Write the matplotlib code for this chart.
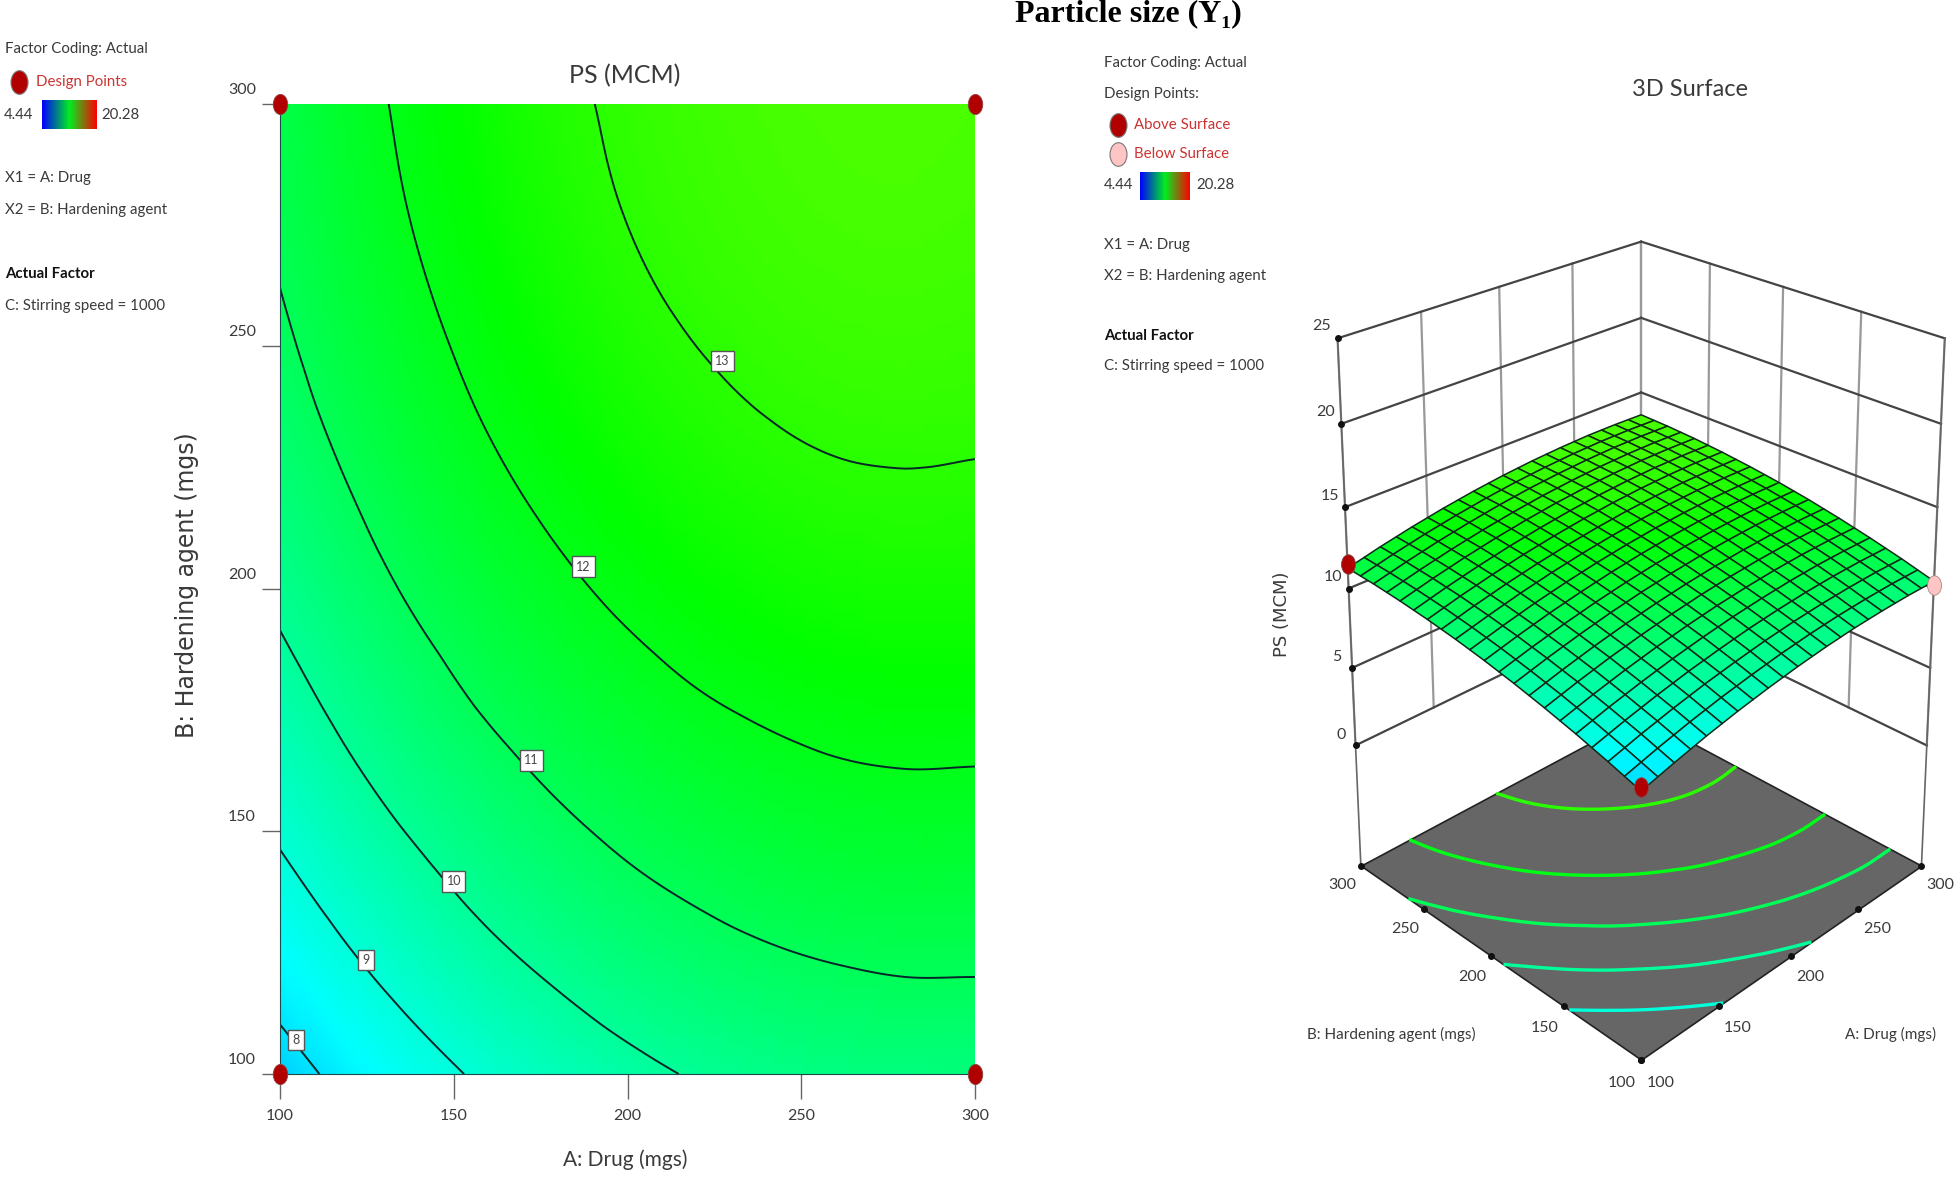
import numpy as np
import matplotlib
matplotlib.use("Agg")
import matplotlib.pyplot as plt
from matplotlib.colors import LinearSegmentedColormap, Normalize
from matplotlib.markers import MarkerStyle
from matplotlib.transforms import Affine2D
from matplotlib.tri import Triangulation, CubicTriInterpolator
from mpl_toolkits.mplot3d import proj3d

W, H = 1960, 1181

# values
drug = [100, 120, 140, 160, 180, 200, 220, 240, 260, 280, 300]
hardening = [100, 120, 140, 160, 180, 200, 220, 240, 260, 280, 300]
ps = np.array([
    [7.69, 8.23, 8.72, 9.14, 9.50, 9.81, 10.06, 10.25, 10.37, 10.44, 10.45],
    [8.29, 8.83, 9.31, 9.73, 10.08, 10.39, 10.63, 10.81, 10.93, 11.00, 11.00],
    [8.84, 9.37, 9.84, 10.26, 10.61, 10.91, 11.14, 11.32, 11.44, 11.49, 11.49],
    [9.33, 9.86, 10.33, 10.73, 11.08, 11.37, 11.60, 11.77, 11.89, 11.94, 11.93],
    [9.77, 10.29, 10.75, 11.16, 11.50, 11.78, 12.01, 12.17, 12.28, 12.33, 12.32],
    [10.16, 10.67, 11.13, 11.52, 11.86, 12.14, 12.36, 12.52, 12.62, 12.66, 12.65],
    [10.49, 10.99, 11.45, 11.84, 12.17, 12.44, 12.66, 12.81, 12.91, 12.94, 12.92],
    [10.76, 11.27, 11.71, 12.10, 12.42, 12.69, 12.90, 13.05, 13.14, 13.17, 13.14],
    [10.98, 11.48, 11.92, 12.30, 12.62, 12.89, 13.09, 13.23, 13.32, 13.34, 13.31],
    [11.15, 11.64, 12.08, 12.45, 12.77, 13.03, 13.22, 13.36, 13.44, 13.46, 13.42],
    [11.26, 11.75, 12.18, 12.55, 12.86, 13.11, 13.30, 13.43, 13.51, 13.52, 13.48],
])
contour_levels = [8, 9, 10, 11, 12, 13]
floor_levels = [9, 10, 11, 12, 13]
label_values = [8, 9, 10, 11, 12, 13]
label_drug = [104.7, 124.8, 150.0, 172.3, 187.4, 227.3]
label_hardening = [107.0, 123.5, 139.7, 164.7, 204.6, 247.0]
points_drug = [100, 100, 300, 300]
points_hardening = [100, 300, 100, 300]
above_drug = [100, 100]
above_hardening = [100, 300]
above_ps = [7.9, 11.5]
below_drug = [300]
below_hardening = [100]
below_ps = [10.2]
ticks_ab = [100, 150, 200, 250, 300]
ticks_ps = [0, 5, 10, 15, 20, 25]
ps_min, ps_max = 4.44, 20.28

NARROW = ["Lato", "Liberation Sans"]
TXT = "#3a3a3a"
RED = "#b00000"
PINK = "#ffc4c4"

surface_cmap = LinearSegmentedColormap.from_list(
    "de", ["#0000ff", "#00ffff", "#00ff00", "#ffff00", "#ff0000"])
bar_cmap = LinearSegmentedColormap.from_list("bar", ["#0000ff", "#00ee20", "#ff0000"])
norm = Normalize(ps_min, ps_max)
oval = MarkerStyle("o", transform=Affine2D().scale(0.72, 1))

# smooth rendering of the read grid
gx, gy = np.meshgrid(drug, hardening)
tri = Triangulation(gx.ravel().astype(float), gy.ravel().astype(float))
smooth = CubicTriInterpolator(tri, ps.ravel(), kind="geom")
x_smooth, y_smooth = np.meshgrid(np.linspace(100, 300, 101), np.linspace(100, 300, 101))
x_smooth = np.clip(x_smooth, 100.0001, 299.9999)
y_smooth = np.clip(y_smooth, 100.0001, 299.9999)
ps_smooth = smooth(x_smooth, y_smooth)

fig = plt.figure(figsize=(W / 100, H / 100), dpi=100)

# left: contour plot
ax = fig.add_axes([280 / W, 1 - 1074 / H, 695 / W, 970 / H])
ax.pcolormesh(x_smooth, y_smooth, ps_smooth, cmap=surface_cmap, norm=norm, shading="gouraud")
ax.contour(x_smooth, y_smooth, ps_smooth, levels=contour_levels, colors="#06262a", linewidths=1.4)
ax.set_xlim(100, 300)
ax.set_ylim(100, 300)
ax.spines["top"].set_visible(False)
ax.spines["right"].set_visible(False)
ax.spines["left"].set_color("#1c4a4a")
ax.spines["bottom"].set_color("#1c4a4a")
ax.set_xticks(ticks_ab)
ax.set_yticks(ticks_ab)
ax.tick_params(axis="x", length=18, width=1, color="#666666", pad=7, labelsize=11.5, labelcolor=TXT)
ax.tick_params(axis="y", length=13, width=1, color="#666666", labelleft=False)
for lab in ax.get_xticklabels():
    lab.set_family(NARROW)
for t in ticks_ab:
    ax.annotate(str(t), (100, t), xytext=(-38, 14), textcoords="offset pixels",
                ha="center", va="center", fontsize=11.5, color=TXT, family=NARROW,
                annotation_clip=False)
for v, x, y in zip(label_values, label_drug, label_hardening):
    ax.text(x, y, str(v), ha="center", va="center", fontsize=9, color="#444444", family=NARROW,
            bbox=dict(boxstyle="square,pad=0.35", fc="white", ec="#555555", lw=1))
ax.plot(points_drug, points_hardening, ls="none", marker=oval, ms=14.5, mfc=RED, mec="#884444",
        mew=0.6, clip_on=False, zorder=10)

# right: 3D surface
floor = -8.0
z_top = 77.0
ax3 = fig.add_axes([780 / W, 1 - 1031 / H, 1677 / W, 1677 / H], projection="3d", computed_zorder=False)
ax3.set_proj_type("persp", focal_length=0.2314)
ax3.set_box_aspect((1.414, 1.414, 5.18))
ax3.view_init(elev=16.6, azim=-135)
ax3.set_xlim(100, 300)
ax3.set_ylim(100, 300)
ax3.set_zlim(floor, z_top)
ax3.set_xticks([])
ax3.set_yticks([])
ax3.set_zticks([])
ax3.set_axis_off()
ax3.patch.set_alpha(0)


def label3d(x, y, z, s):
    px, py, _ = proj3d.proj_transform(x, y, z, ax3.get_proj())
    ax3.text2D(px, py, s, transform=ax3.transData, ha="center", va="center",
               fontsize=11.5, color=TXT, family=NARROW)


# floor
xf, yf = np.meshgrid([100, 300], [100, 300])
fl = ax3.plot_surface(xf, yf, np.full(xf.shape, floor), color="#666666", shade=False,
                      edgecolor="#222222", linewidth=1.2, zorder=1)
fl.set_clip_on(False)
cs = ax3.contour(x_smooth, y_smooth, ps_smooth, levels=floor_levels, cmap=surface_cmap, norm=norm,
                 zdir="z", offset=floor, linewidths=2.4, zorder=2)
cs.set_clip_on(False)

# walls
for t in ticks_ab:
    ax3.plot([t, t], [300, 300], [0, 25], color="#999999", lw=1.6, zorder=3, clip_on=False)
    ax3.plot([300, 300], [t, t], [0, 25], color="#999999", lw=1.6, zorder=3, clip_on=False)
for z in ticks_ps:
    ax3.plot([100, 300], [300, 300], [z, z], color="#444444", lw=1.6, zorder=3, clip_on=False)
    ax3.plot([300, 300], [300, 100], [z, z], color="#444444", lw=1.6, zorder=3, clip_on=False)
    ax3.plot([100], [300], [z], marker="o", ms=4, color="#111111", zorder=4, clip_on=False)
    label3d(95, 305, z + 0.7, str(z))
ax3.plot([100, 100], [300, 300], [floor, 25], color="#666666", lw=1.2, zorder=3, clip_on=False)
ax3.plot([300, 300], [100, 100], [floor, 25], color="#666666", lw=1.2, zorder=3, clip_on=False)

# floor ticks
for t in ticks_ab:
    ax3.plot([t], [100], [floor], marker="o", ms=4, color="#111111", zorder=4, clip_on=False)
    ax3.plot([100], [t], [floor], marker="o", ms=4, color="#111111", zorder=4, clip_on=False)
    label3d(t, 88, floor - 0.6, str(t))
    label3d(88, t, floor - 0.6, str(t))

# 20 cell mesh drawn through the grid values
drug_fine = np.linspace(100, 300, 21)
hard_fine = np.linspace(100, 300, 21)
ps_rows = np.array([np.interp(drug_fine, drug, row) for row in ps])
ps_fine = np.array([np.interp(hard_fine, hardening, col) for col in ps_rows.T]).T
xs, ys = np.meshgrid(drug_fine, hard_fine)
cells = (ps_fine[:-1, :-1] + ps_fine[1:, 1:] + ps_fine[1:, :-1] + ps_fine[:-1, 1:]) / 4
surf = ax3.plot_surface(xs, ys, ps_fine, rstride=1, cstride=1, facecolors=surface_cmap(norm(cells)),
                        shade=False, linewidth=1.1, zorder=6)
surf.set_edgecolor("#0d2a18")
surf.set_clip_on(False)
ax3.plot(above_drug, above_hardening, above_ps, ls="none", marker=oval, ms=14, mfc=RED, mec="#884444",
         mew=0.6, zorder=8, clip_on=False)
ax3.plot(below_drug, below_hardening, below_ps, ls="none", marker=oval, ms=14, mfc=PINK, mec="#aa8888",
         mew=0.6, zorder=8, clip_on=False)

# texts and legends in pixel coordinates
top = fig.add_axes([0, 0, 1, 1])
top.patch.set_alpha(0)


def txt(x, y, s, size=10.8, color=TXT, weight="normal", ha="left", family=NARROW, rot=0):
    top.text(x, y, s, fontsize=size, color=color, fontweight=weight, ha=ha, va="center",
             family=family, rotation=rot)


grad = np.linspace(ps_min, ps_max, 200).reshape(1, -1)
top.imshow(grad, cmap=bar_cmap, extent=(42, 96, 129, 100), aspect="auto", norm=norm)
top.imshow(grad, cmap=bar_cmap, extent=(1140, 1190, 200, 172), aspect="auto", norm=norm)
top.plot([19], [82], ls="none", marker=oval, ms=17, mfc=RED, mec="#777777", mew=0.8)
top.plot([1118], [125], ls="none", marker=oval, ms=17, mfc=RED, mec="#777777", mew=0.8)
top.plot([1118], [154], ls="none", marker=oval, ms=17, mfc=PINK, mec="#777777", mew=0.8)
top.set_xlim(0, W)
top.set_ylim(H, 0)
top.set_xticks([])
top.set_yticks([])
top.axis("off")

txt(1128, 14, "Particle size (Y₁)", size=23, color="black", weight="bold", ha="center",
    family=["Liberation Serif", "DejaVu Serif"])
txt(5, 49, "Factor Coding: Actual")
txt(36, 82, "Design Points", color="#cc3333")
txt(4, 115, "4.44")
txt(101, 115, "20.28")
txt(5, 178, "X1 = A: Drug")
txt(5, 210, "X2 = B: Hardening agent")
txt(5, 274, "Actual Factor", weight="bold", color="#111111")
txt(5, 306, "C: Stirring speed = 1000")
txt(625, 76, "PS (MCM)", size=18, ha="center")
txt(625, 1160, "A: Drug (mgs)", size=15, ha="center")
txt(187, 585, "B: Hardening agent (mgs)", size=17, ha="center", rot=90, family=["DejaVu Sans"])

txt(1104, 63, "Factor Coding: Actual")
txt(1104, 94, "Design Points:")
txt(1134, 125, "Above Surface", color="#cc3333")
txt(1134, 154, "Below Surface", color="#cc3333")
txt(1104, 185, "4.44")
txt(1196, 185, "20.28")
txt(1104, 245, "X1 = A: Drug")
txt(1104, 276, "X2 = B: Hardening agent")
txt(1104, 336, "Actual Factor", weight="bold", color="#111111")
txt(1104, 366, "C: Stirring speed = 1000")
txt(1690, 89, "3D Surface", size=17, ha="center")
txt(1282, 614, "PS (MCM)", size=13, ha="center", rot=90, family=["DejaVu Sans"])
txt(1391, 1034, "B: Hardening agent (mgs)", size=11, ha="center")
txt(1891, 1034, "A: Drug (mgs)", size=11, ha="center")

fig.savefig("out.png", dpi=100)
